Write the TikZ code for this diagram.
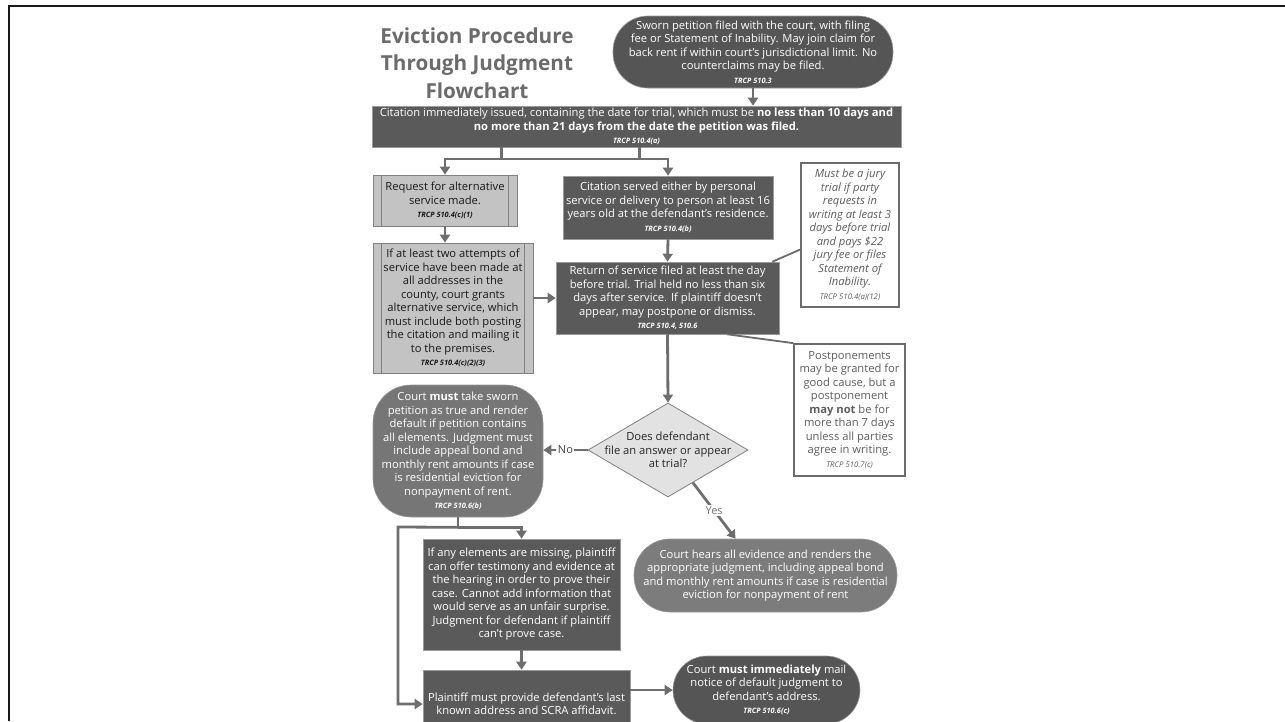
\documentclass[tikz,border=0pt]{standalone}
\usepackage{fontspec}
\setmainfont{Open Sans}
\usetikzlibrary{arrows.meta,shapes.geometric,calc}
\definecolor{dkA}{HTML}{555555}
\definecolor{dkB}{HTML}{5A5A5A}
\definecolor{mdA}{HTML}{767676}
\definecolor{mdB}{HTML}{7C7C7C}
\definecolor{ltA}{HTML}{C3C3C3}
\definecolor{dmA}{HTML}{E2E2E2}
\definecolor{nbd}{HTML}{6B6B6B}
\definecolor{ntx}{HTML}{5E5E5E}
\definecolor{arc}{HTML}{6E6E6E}
\definecolor{ttl}{HTML}{6B6B6B}
\definecolor{bxbd}{HTML}{9A9A9A}
\newcommand\trcpb[1]{{\fontsize{7.4}{9}\selectfont\bfseries\itshape #1}}
\newcommand\trcpn[1]{{\fontsize{7.8}{9}\selectfont\itshape #1}}
\begin{document}
\begin{tikzpicture}[x=1pt,y=-1pt,
  txt/.style={font=\fontsize{11.2}{13.5}\selectfont, align=center, inner sep=0pt},
  dkbox/.style={txt, draw=bxbd, line width=0.6pt, fill=dkB, text=white},
  dkround/.style={txt, draw=bxbd, line width=0.6pt, fill=dkA, text=white},
  mdround/.style={txt, draw=bxbd, line width=0.6pt, text=white},
  ltbox/.style={txt, draw=gray, line width=0.8pt, fill=ltA, text=black!90},
  notebox/.style={txt, draw=nbd, line width=1.8pt, fill=white, text=ntx},
  ln/.style={draw=arc, line width=2.8pt},
  arr/.style={draw=arc, line width=2.8pt, -{Triangle[width=10pt,length=8pt]}},
  nl/.style={draw=nbd, line width=1.8pt}
]
\useasboundingbox (0,0) rectangle (1285,721);
\fill[white] (0,0) rectangle (1285,721);
% frame
\draw[line width=2.6pt, black!90] (9,721) -- (9,6) -- (1285,6);

% title
\node[font=\fontsize{20.7}{27.5}\selectfont\bfseries, text=ttl, align=center] (title) at (477,63)
  {Eviction Procedure\\Through Judgment\\Flowchart};

% top rounded
\node[dkround, rounded corners=35pt, minimum width=280, minimum height=72] (T) at (753,52)
  {Sworn petition filed with the court, with filing\\fee or Statement of Inability. May join claim for\\back rent if within court’s jurisdictional limit. No\\counterclaims may be filed.\\\trcpb{TRCP 510.3}};

% citation bar
\node[dkbox, minimum width=529, minimum height=41] (Bar) at (636.5,126.5)
  {Citation immediately issued, containing the date for trial, which must be \textbf{no less than 10 days and}\\\textbf{no more than 21 days from the date the petition was filed.}\\\trcpb{TRCP 510.4(a)}};

% left column
\node[ltbox, minimum width=144, minimum height=51] (A) at (445,200.5)
  {Request for alternative\\service made.\\\trcpb{TRCP 510.4(c)(1)}};
\node[ltbox, minimum width=160, minimum height=130] (B) at (453,308)
  {If at least two attempts of\\service have been made at\\all addresses in the\\county, court grants\\alternative service, which\\must include both posting\\the citation and mailing it\\to the premises.\\\trcpb{TRCP 510.4(c)(2)(3)}};
\foreach \n in {A,B}{
  \draw[gray, line width=0.8pt] ([xshift=9pt]\n.north west) -- ([xshift=9pt]\n.south west);
  \draw[gray, line width=0.8pt] ([xshift=-9pt]\n.north east) -- ([xshift=-9pt]\n.south east);
}

% middle column
\node[dkbox, minimum width=210, minimum height=63] (C) at (668,207.5)
  {Citation served either by personal\\service or delivery to person at least 16\\years old at the defendant’s residence.\\\trcpb{TRCP 510.4(b)}};
\node[dkbox, minimum width=223, minimum height=72] (D) at (667.5,298)
  {Return of service filed at least the day\\before trial. Trial held no less than six\\days after service. If plaintiff doesn’t\\appear, may postpone or dismiss.\\\trcpb{TRCP 510.4, 510.6}};

% notes
\node[notebox, minimum width=98, minimum height=144] (E) at (850,235)
  {\itshape Must be a jury\\\itshape trial if party\\\itshape requests in\\\itshape writing at least 3\\\itshape days before trial\\\itshape and pays \$22\\\itshape jury fee or files\\\itshape Statement of\\\itshape Inability.\\\trcpn{TRCP 510.4(a)(12)}};
\node[notebox, minimum width=111, minimum height=132] (P) at (849.5,410)
  {Postponements\\may be granted for\\good cause, but a\\postponement\\\textbf{may not} be for\\more than 7 days\\unless all parties\\agree in writing.\\\trcpn{TRCP 510.7(c)}};

% decision
\node[diamond, draw=gray, line width=0.8pt, fill=dmA, aspect=1.7, minimum width=160, minimum height=94, inner sep=0pt] (Q) at (668,450) {};
\node[txt, text=black!85] (Qt) at (Q.center) {Does defendant\\file an answer or appear\\at trial?};

% court must
\node[mdround, fill=mdA, rounded corners=38pt, minimum width=170, minimum height=132] (M) at (458,451)
  {Court \textbf{must} take sworn\\petition as true and render\\default if petition contains\\all elements. Judgment must\\include appeal bond and\\monthly rent amounts if case\\is residential eviction for\\nonpayment of rent.\\\trcpb{TRCP 510.6(b)}};

% court hears
\node[mdround, fill=mdB, rounded corners=36pt, minimum width=263, minimum height=73] (CH) at (765.5,575.5)
  {Court hears all evidence and renders the\\appropriate judgment, including appeal bond\\and monthly rent amounts if case is residential\\eviction for nonpayment of rent};

% bottom
\node[dkbox, minimum width=197, minimum height=111] (F) at (521.5,594.5)
  {If any elements are missing, plaintiff\\can offer testimony and evidence at\\the hearing in order to prove their\\case. Cannot add information that\\would serve as an unfair surprise.\\Judgment for defendant if plaintiff\\can’t prove case.};
\node[dkbox, minimum width=207, minimum height=68] (G) at (526.5,704)
  {Plaintiff must provide defendant’s last\\known address and SCRA affidavit.};
\node[dkround, rounded corners=34pt, minimum width=187, minimum height=68] (H) at (766.5,690)
  {Court \textbf{must immediately} mail\\notice of default judgment to\\defendant’s address.\\\trcpb{TRCP 510.6(c)}};

% connectors
\draw[arr] (T.south) -- (T.south |- Bar.north);
\coordinate (sL) at (501.5,159);
\coordinate (sR) at (639.5,159);
\draw[ln] (sL |- Bar.south) -- (sL);
\draw[ln] (sR |- Bar.south) -- (sR);
\coordinate (jm) at (560,159);
\draw[arr] (jm) -| (A.north);
\draw[arr] (jm) -| (C.north);
\draw[arr] (A.south) -- (A.south |- B.north);
\draw[arr] (C.south) -- (D.north);
\draw[arr] (B.east |- D.west) -- (D.west);
\draw[nl] ($(D.north east)+(-7,0)$) -- ($(E.north west)!0.6!(E.south west)$);
\draw[nl] ($(D.south east)+(-52,0)$) -- (P.north west);
\draw[arr] (D.south) -- (Q.north);
\draw[arr] (Q.west) -- node[fill=white, inner sep=1.5pt, text=black!75, font=\fontsize{11}{12}\selectfont]{No} (Q.west -| M.east);
\draw[arr] ($(Q.east)!0.69!(Q.south)$) -- node[fill=white, inner sep=1.5pt, text=black!55, font=\fontsize{11}{12}\selectfont]{Yes} ($(CH.north)+(-30,0)$);
\coordinate (mj) at ($(M.south)+(0,10)$);
\coordinate (lp) at (398,527);
\draw[ln] (M.south) -- (mj);
\draw[arr] (mj) -| (F.north);
\draw[arr] (mj) -- (lp) |- (G.west);
\draw[arr] (F.south) -- (F.south |- G.north);
\draw[arr] (G.east |- H.west) -- (H.west);
\end{tikzpicture}
\end{document}
